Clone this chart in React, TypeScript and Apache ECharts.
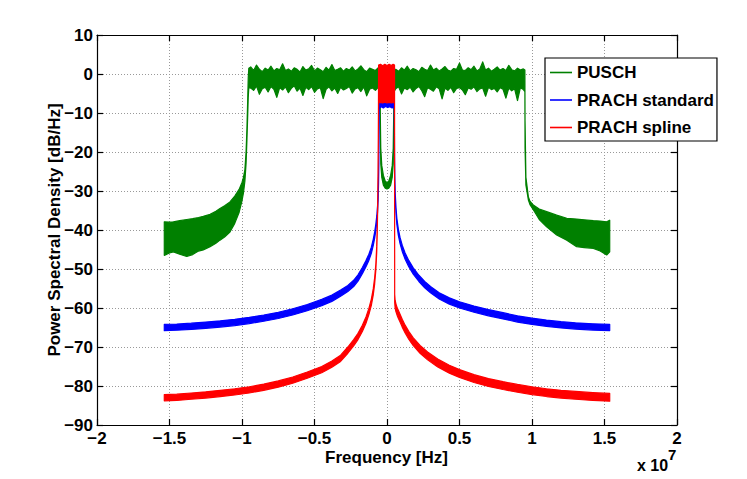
import React, { useEffect, useRef } from 'react';
import * as echarts from 'echarts';

// x in units of 1e7 Hz, values in dB/Hz
const puschSkirtLX = [-1.536, -1.5, -1.473, -1.43, -1.381, -1.34, -1.3, -1.267, -1.22, -1.18, -1.152, -1.12, -1.083, -1.05, -1.02, -1.0, -0.99, -0.98, -0.972, -0.966, -0.961, -0.957, -0.953];
const puschSkirtLLow = [-46.5, -45.9, -45.6, -46.2, -46.8, -46.3, -45.4, -45.1, -44.3, -43.4, -42.6, -41.8, -40.5, -38.3, -35.5, -32.5, -30.5, -27.5, -23, -17, -11, -6, -3.5];
const puschSkirtLHigh = [-37.9, -38.0, -37.9, -37.6, -37.3, -37.1, -36.8, -36.5, -36.0, -35.2, -34.5, -33.8, -32.8, -31.3, -29.6, -27.8, -26.5, -24.5, -20, -14, -7, -1, 1.5];

const puschFlatLX = [-0.94, -0.92, -0.90, -0.88, -0.86, -0.84, -0.82, -0.80, -0.78, -0.76, -0.74, -0.72, -0.70, -0.68, -0.66, -0.64, -0.62, -0.60, -0.58, -0.56, -0.54, -0.52, -0.50, -0.48, -0.46, -0.44, -0.42, -0.40, -0.38, -0.36, -0.34, -0.32, -0.30, -0.28, -0.26, -0.24, -0.22, -0.20, -0.18, -0.16, -0.14, -0.12, -0.10, -0.08, -0.06];
const puschFlatLHigh = [1.8, 0.9, 2.3, 1.2, 0.6, 1.5, 1.0, 2.0, 0.8, 1.4, 1.1, 2.6, 0.9, 1.3, 0.7, 1.6, 1.2, 0.5, 1.9, 1.0, 1.3, 2.2, 0.8, 1.5, 1.1, 0.6, 1.7, 1.0, 2.4, 0.9, 1.2, 1.6, 0.7, 1.4, 1.0, 1.8, 0.8, 1.3, 2.1, 1.1, 0.6, 1.5, 1.2, 0.9, 1.6];
const puschFlatLLow = [-3.6, -4.2, -3.1, -5.2, -3.8, -3.4, -4.6, -3.2, -3.9, -6.0, -3.5, -4.1, -3.3, -4.8, -3.7, -3.0, -4.4, -3.6, -5.5, -3.4, -4.0, -3.2, -4.7, -3.8, -3.5, -6.3, -3.9, -3.3, -4.3, -3.6, -5.0, -3.4, -4.1, -3.7, -3.2, -4.9, -3.8, -3.5, -4.5, -3.3, -5.6, -3.9, -3.6, -4.2, -3.4];

const puschNotchX = [-0.05, -0.047, -0.043, -0.036, -0.025, -0.012, 0.0, 0.012, 0.025, 0.036, 0.043, 0.047, 0.05];
const puschNotchLow = [-4.5, -14, -23, -26.5, -28.5, -29.3, -29.5, -29.3, -28.5, -26.5, -23, -14, -4.5];
const puschNotchHigh = [1.0, -8, -19, -23.5, -26, -27.5, -27.8, -27.5, -26, -23.5, -19, -8, 1.0];

const puschFlatRX = [0.06, 0.08, 0.10, 0.12, 0.14, 0.16, 0.18, 0.20, 0.22, 0.24, 0.26, 0.28, 0.30, 0.32, 0.34, 0.36, 0.38, 0.40, 0.42, 0.44, 0.46, 0.48, 0.50, 0.52, 0.54, 0.56, 0.58, 0.60, 0.62, 0.64, 0.66, 0.68, 0.70, 0.72, 0.74, 0.76, 0.78, 0.80, 0.82, 0.84, 0.86, 0.88, 0.90, 0.92, 0.94];
const puschFlatRHigh = [1.2, 0.7, 1.6, 1.0, 2.0, 0.8, 1.4, 1.1, 0.6, 1.7, 1.2, 0.9, 2.3, 1.0, 1.5, 0.8, 1.3, 1.9, 1.0, 0.7, 1.4, 1.2, 2.8, 1.0, 0.9, 1.6, 1.1, 2.0, 0.8, 1.3, 3.1, 1.0, 1.5, 0.7, 1.2, 1.8, 1.0, 1.4, 0.9, 2.2, 1.1, 0.8, 1.5, 1.0, 1.3];
const puschFlatRLow = [-3.8, -3.3, -5.1, -3.6, -4.0, -3.4, -4.6, -3.7, -3.2, -4.3, -5.8, -3.5, -3.9, -4.4, -3.3, -3.8, -6.4, -3.6, -4.2, -3.4, -4.8, -3.7, -3.5, -4.1, -5.3, -3.6, -3.9, -3.3, -4.5, -3.8, -3.6, -5.7, -3.4, -4.0, -3.7, -4.6, -3.5, -3.9, -6.2, -3.6, -4.3, -3.8, -6.8, -3.5, -4.0];

const puschSkirtRX = [0.951, 0.952, 0.958, 0.975, 0.986, 1.009, 1.05, 1.101, 1.17, 1.24, 1.308, 1.36, 1.423, 1.47, 1.515, 1.536];
const puschSkirtRLow = [-4.5, -19, -28.5, -32.3, -33.5, -34.8, -37.3, -39.2, -41.3, -42.6, -44.3, -44.5, -44.7, -45.4, -46.4, -45.6];
const puschSkirtRHigh = [1.0, -12, -26.5, -31.5, -32.6, -33.6, -34.6, -35.3, -36.2, -37.0, -37.2, -37.4, -37.6, -37.7, -37.9, -37.5];

// PRACH standard: centre of the trace on each side, and its flat top
const standardLeftX = [-1.536, -1.45, -1.35, -1.25, -1.15, -1.05, -0.95, -0.85, -0.75, -0.65, -0.55, -0.45, -0.38, -0.32, -0.27, -0.23, -0.2, -0.17, -0.145, -0.125, -0.108, -0.095, -0.085, -0.077, -0.07, -0.065, -0.061, -0.058, -0.056, -0.055, -0.054];
const standardLeftY = [-65.0, -64.9, -64.7, -64.4, -64.1, -63.7, -63.2, -62.6, -61.9, -61.0, -59.9, -58.6, -57.5, -56.2, -55.0, -53.7, -52.3, -50.4, -48.6, -47.0, -45.2, -43.2, -41.3, -39.3, -37.0, -34.5, -31.5, -27, -22, -15, -9.5];
const standardTopX = [-0.053, -0.04, -0.025, -0.01, 0.005, 0.02, 0.035, 0.05];
const standardTopLow = [-8.8, -8.4, -8.7, -8.3, -8.6, -8.4, -8.7, -8.5];
const standardTopHigh = [-5, -5, -5, -5, -5, -5, -5, -5];
const standardRightX = [0.051, 0.052, 0.054, 0.057, 0.062, 0.068, 0.078, 0.09, 0.105, 0.125, 0.15, 0.181, 0.22, 0.26, 0.3, 0.36, 0.43, 0.5, 0.6, 0.7, 0.8, 0.9, 1.0, 1.1, 1.2, 1.3, 1.42, 1.536];
const standardRightY = [-15, -22, -27, -31.5, -35, -37.8, -40.5, -42.7, -44.7, -46.7, -48.6, -50.5, -52.4, -54.0, -55.3, -56.9, -58.2, -59.2, -60.3, -61.2, -62.0, -62.8, -63.4, -63.9, -64.3, -64.6, -64.85, -65.0];

// PRACH spline
const splineLeftX = [-1.536, -1.45, -1.35, -1.25, -1.15, -1.05, -0.95, -0.85, -0.75, -0.65, -0.55, -0.45, -0.38, -0.32, -0.27, -0.23, -0.2, -0.17, -0.145, -0.125, -0.108, -0.095, -0.085, -0.077, -0.071, -0.067, -0.064, -0.062, -0.06, -0.059];
const splineLeftY = [-83.0, -82.9, -82.6, -82.3, -81.9, -81.5, -81.0, -80.3, -79.5, -78.5, -77.2, -75.8, -74.4, -72.9, -70.8, -68.9, -67.3, -65.2, -63.1, -60.9, -58.5, -55.9, -53.0, -49.5, -45, -39.5, -33, -26, -17, -10];
const splineTopX = [-0.058, -0.045, -0.03, -0.015, 0.0, 0.015, 0.03, 0.042, 0.052];
const splineTopLow = [-7.4, -7.3, -7.4, -7.2, -7.4, -7.3, -7.4, -7.3, -7.4];
const splineTopHigh = [2.3, 2.5, 2.1, 2.5, 2.2, 2.5, 2.2, 2.5, 2.3];
const splineRightX = [0.053, 0.056, 0.062, 0.07, 0.078, 0.09, 0.105, 0.125, 0.15, 0.18, 0.228, 0.28, 0.35, 0.43, 0.5, 0.6, 0.7, 0.8, 0.9, 1.0, 1.1, 1.2, 1.3, 1.42, 1.536];
const splineRightY = [-57.5, -59.0, -60.0, -60.9, -61.6, -62.6, -63.9, -65.4, -67.0, -68.6, -70.6, -72.3, -74.1, -75.7, -76.8, -78.1, -79.1, -79.9, -80.6, -81.2, -81.7, -82.1, -82.4, -82.7, -82.9];

const yTickLabels = ['10', '0', '−10', '−20', '−30', '−40', '−50', '−60', '−70', '−80', '−90'];

// half thickness of the dense traces, in dB
const STD_HALF = 0.8;
const SPL_HALF_L = 0.8;
const SPL_HALF_R = 1.0;

const puschX = [...puschSkirtLX, ...puschFlatLX, ...puschNotchX, ...puschFlatRX, ...puschSkirtRX];
const puschLow = [...puschSkirtLLow, ...puschFlatLLow, ...puschNotchLow, ...puschFlatRLow, ...puschSkirtRLow];
const puschHigh = [...puschSkirtLHigh, ...puschFlatLHigh, ...puschNotchHigh, ...puschFlatRHigh, ...puschSkirtRHigh];

const standardX = [...standardLeftX, ...standardTopX, ...standardRightX];
const standardLow = [...standardLeftY.map((v) => v - STD_HALF), ...standardTopLow, ...standardRightY.map((v) => v - STD_HALF)];
const standardHigh = [...standardLeftY.map((v) => v + STD_HALF), ...standardTopHigh, ...standardRightY.map((v) => v + STD_HALF)];

const splineX = [...splineLeftX, ...splineTopX, ...splineRightX];
const splineLow = [...splineLeftY.map((v) => v - SPL_HALF_L), ...splineTopLow, ...splineRightY.map((v) => v - SPL_HALF_R)];
const splineHigh = [...splineLeftY.map((v) => v + SPL_HALF_L), ...splineTopHigh, ...splineRightY.map((v) => v + SPL_HALF_R)];

const GREEN = '#008000';
const BLUE = '#0000ff';
const RED = '#ff0000';
const FONT = '"Liberation Sans", Arial, Helvetica, sans-serif';

function bandSeries(name: string, xs: number[], lo: number[], hi: number[], color: string) {
  const data = xs.map((x, i) => [x, lo[i], hi[i]]);
  return {
    type: 'custom',
    name,
    data,
    silent: true,
    itemStyle: { color },
    encode: { x: 0, y: [1, 2] },
    renderItem: (params: any, api: any) => {
      if (params.dataIndexInside !== 0) return null;
      const n = params.dataInsideLength;
      const top: number[][] = [];
      const bot: number[][] = [];
      for (let i = 0; i < n; i++) {
        top.push(api.coord([api.value(0, i), api.value(2, i)]));
        bot.push(api.coord([api.value(0, i), api.value(1, i)]));
      }
      const pts = top.concat(bot.reverse());
      return {
        type: 'polygon',
        shape: { points: pts },
        style: { fill: color, stroke: color, lineWidth: 1.2, lineJoin: 'round' },
      };
    },
  };
}

function fmtX(v: number) {
  if (v === 0) return '0';
  return v < 0 ? '−' + String(Math.abs(v)) : String(v);
}

const labelStyle = { fontFamily: FONT, fontWeight: 'bold' as const, fontSize: 17, color: '#000' };
const legendIcon = 'path://M0,8 L22,8 L22,9.6 L0,9.6 Z';

export default function App() {
  const ref = useRef<HTMLDivElement>(null);
  useEffect(() => {
    const chart = echarts.init(ref.current!, null, { renderer: 'svg' });
    const axisLine = { show: true, onZero: false, lineStyle: { color: '#000', width: 1.2 } };
    const axisTick = { show: true, inside: true, length: 6, lineStyle: { color: '#000', width: 1.2 } };
    const gridLine = { show: true, lineStyle: { color: '#999', width: 1, type: [1, 2] } };
    const option: any = {
      animation: false,
      backgroundColor: '#fff',
      grid: { left: 97, right: 70, top: 35, bottom: 54, containLabel: false },
      xAxis: [
        {
          type: 'value', min: -2, max: 2, interval: 0.5, position: 'bottom',
          axisLine, axisTick,
          axisLabel: { ...labelStyle, margin: 5, formatter: fmtX },
          splitLine: gridLine,
        },
        {
          type: 'value', min: -2, max: 2, interval: 0.5, position: 'top',
          axisLine, axisTick, axisLabel: { show: false }, splitLine: { show: false },
        },
      ],
      yAxis: [
        {
          type: 'value', min: -90, max: 10, interval: 10, position: 'left',
          axisLine, axisTick,
          axisLabel: {
            ...labelStyle, margin: 4,
            formatter: (v: number) => yTickLabels[Math.round((10 - v) / 10)] ?? String(v),
          },
          splitLine: gridLine,
        },
        {
          type: 'value', min: -90, max: 10, interval: 10, position: 'right',
          axisLine, axisTick, axisLabel: { show: false }, splitLine: { show: false },
        },
      ],
      legend: {
        show: true,
        orient: 'vertical',
        left: 545,
        top: 58,
        padding: [6, 3, 5, 5],
        itemGap: 10.5,
        itemWidth: 22,
        itemHeight: 17,
        selectedMode: false,
        backgroundColor: '#fff',
        borderColor: '#000',
        borderWidth: 1.2,
        textStyle: { fontFamily: FONT, fontWeight: 'bold', fontSize: 17, color: '#000' },
        data: [
          { name: 'PUSCH', icon: legendIcon, itemStyle: { color: GREEN } },
          { name: 'PRACH standard', icon: legendIcon, itemStyle: { color: BLUE } },
          { name: 'PRACH spline', icon: legendIcon, itemStyle: { color: RED } },
        ],
      },
      graphic: [
        {
          type: 'text', x: 54, y: 230, rotation: Math.PI / 2,
          style: {
            text: 'Power Spectral Density [dB/Hz]', font: `bold 17px ${FONT}`, fill: '#000',
            textAlign: 'center', textVerticalAlign: 'middle', align: 'center', verticalAlign: 'middle',
          },
        },
        {
          type: 'text', x: 386.5, y: 457.5,
          style: {
            text: 'Frequency [Hz]', font: `bold 17px ${FONT}`, fill: '#000',
            textAlign: 'center', textVerticalAlign: 'middle', align: 'center', verticalAlign: 'middle',
          },
        },
        {
          type: 'text', x: 637, y: 465,
          style: {
            text: 'x 10', font: `bold 16px ${FONT}`, fill: '#000',
            textAlign: 'left', textVerticalAlign: 'middle', align: 'left', verticalAlign: 'middle',
          },
        },
        {
          type: 'text', x: 668, y: 454,
          style: {
            text: '7', font: `bold 15px ${FONT}`, fill: '#000',
            textAlign: 'left', textVerticalAlign: 'middle', align: 'left', verticalAlign: 'middle',
          },
        },
      ],
      series: [
        bandSeries('PUSCH', puschX, puschLow, puschHigh, GREEN),
        bandSeries('PRACH standard', standardX, standardLow, standardHigh, BLUE),
        bandSeries('PRACH spline', splineX, splineLow, splineHigh, RED),
      ],
    };
    chart.setOption(option);
    return () => chart.dispose();
  }, []);
  return <div ref={ref} style={{ position: 'fixed', left: 0, top: 0, width: 747, height: 479 }} />;
}
